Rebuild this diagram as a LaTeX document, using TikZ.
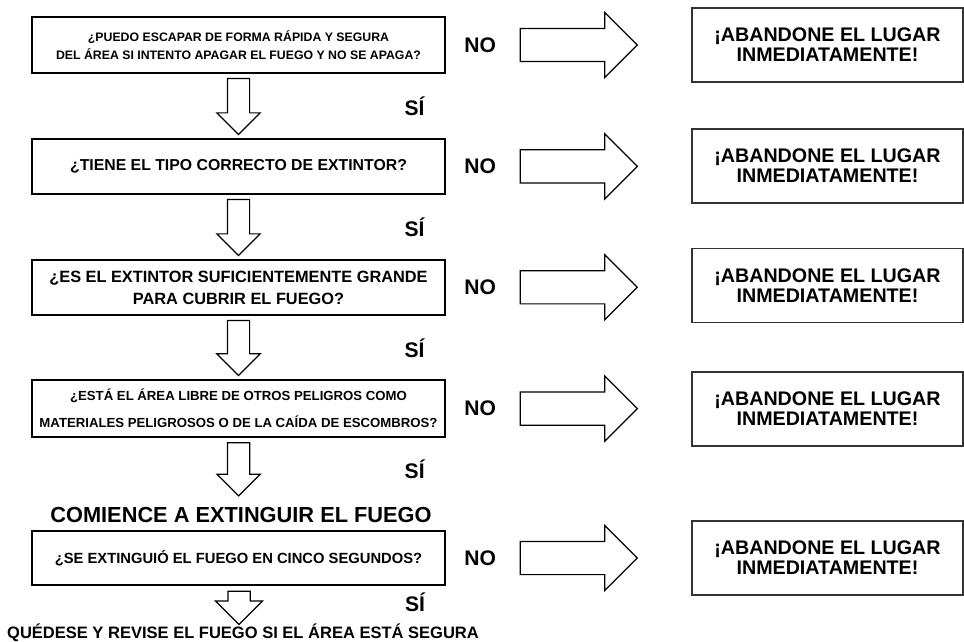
\documentclass[tikz,border=0pt]{standalone}
\usepackage{fontspec}
\setmainfont{Liberation Sans}
\usetikzlibrary{positioning}
\usetikzlibrary{calc}
\usetikzlibrary{shapes.arrows}
\tikzset{
	question/.style={
		rectangle,
		draw,
		line width=1.2pt,
		align=center,
		minimum width=8.26cm,
		minimum height=1.1cm,
		inner sep=0pt
	},
	leave/.style={
		rectangle,
		draw=black!80,
		line width=0.9pt,
		align=center,
		minimum width=5.42cm,
		minimum height=1.48cm,
		inner sep=0pt,
		font=\fontsize{11.2}{11.4}\selectfont\bfseries
	},
	rightarrow/.style={
		single arrow,
		draw,
		line width=0.7pt,
		anchor=tail,
		minimum height=2.34cm,
		inner sep=0.32cm,
		single arrow head extend=0.32cm
	},
	downarrow/.style={
		single arrow,
		draw,
		line width=0.7pt,
		shape border rotate=270,
		anchor=tail,
		minimum height=1.12cm,
		inner sep=0.21cm,
		single arrow head extend=0.21cm
	},
	answer/.style={
		inner sep=0pt,
		font=\fontsize{12}{12}\selectfont\bfseries
	}
}

\begin{document}
\begin{tikzpicture}[x=0.02cm, y=-0.02cm]
	\useasboundingbox (0,0) rectangle (964,642);
	% questions
	\node[question, minimum height=1.12cm, font=\fontsize{7}{10}\selectfont\bfseries] (Q1) at (238.5,45) {¿PUEDO ESCAPAR DE FORMA RÁPIDA Y SEGURA\\DEL ÁREA SI INTENTO APAGAR EL FUEGO Y NO SE APAGA?};
	\node[question, font=\fontsize{9}{11}\selectfont\bfseries] (Q2) at (238.5,166.5) {¿TIENE EL TIPO CORRECTO DE EXTINTOR?};
	\node[question, font=\fontsize{9.3}{12.5}\selectfont\bfseries] (Q3) at (238.5,287.5) {¿ES EL EXTINTOR SUFICIENTEMENTE GRANDE\\PARA CUBRIR EL FUEGO?};
	\node[question, minimum height=1.14cm, font=\fontsize{7.5}{15.5}\selectfont\bfseries] (Q4) at (238.5,408.5) {¿ESTÁ EL ÁREA LIBRE DE OTROS PELIGROS COMO\\MATERIALES PELIGROSOS O DE LA CAÍDA DE ESCOMBROS?};
	\node[answer, font=\fontsize{12.4}{12.4}\selectfont\bfseries] (Start) at (241,515) {COMIENCE A EXTINGUIR EL FUEGO};
	\node[question, minimum height=1.08cm, font=\fontsize{8.4}{10}\selectfont\bfseries] (Q5) at (238.5,558) {¿SE EXTINGUIÓ EL FUEGO EN CINCO SEGUNDOS?};
	\node[answer, font=\fontsize{9.4}{9.4}\selectfont\bfseries] (Stay) at (243,633) {QUÉDESE Y REVISE EL FUEGO SI EL ÁREA ESTÁ SEGURA};

	% NO branches
	\node[answer, right=0.36cm of Q1] (No1) {NO};
	\node[answer, right=0.36cm of Q2] (No2) {NO};
	\node[answer, right=0.36cm of Q3] (No3) {NO};
	\node[answer, right=0.36cm of Q4] (No4) {NO};
	\node[answer, right=0.36cm of Q5] (No5) {NO};

	\node[leave] (Exit1) at (827.5,45) {¡ABANDONE EL LUGAR\\INMEDIATAMENTE!};
	\node[leave] (Exit2) at (827.5,166) {¡ABANDONE EL LUGAR\\INMEDIATAMENTE!};
	\node[leave] (Exit3) at (827.5,285.5) {¡ABANDONE EL LUGAR\\INMEDIATAMENTE!};
	\node[leave] (Exit4) at (827.5,409) {¡ABANDONE EL LUGAR\\INMEDIATAMENTE!};
	\node[leave] (Exit5) at (827.5,558) {¡ABANDONE EL LUGAR\\INMEDIATAMENTE!};

	\node[rightarrow] (Right1) at ($(No1.east)!0.12!(Exit1.west)$) {};
	\node[rightarrow] (Right2) at ($(No2.east)!0.12!(Exit2.west)$) {};
	\node[rightarrow] (Right3) at ($(No3.east)!0.12!(Exit3.west)$) {};
	\node[rightarrow] (Right4) at ($(No4.east)!0.12!(Exit4.west)$) {};
	\node[rightarrow] (Right5) at ($(No5.east)!0.12!(Exit5.west)$) {};

	% SÍ branches
	\node[downarrow] (Down1) at ($(Q1.south)!0.06!(Q2.north)$) {};
	\node[downarrow] (Down2) at ($(Q2.south)!0.06!(Q3.north)$) {};
	\node[downarrow, minimum height=1.1cm] (Down3) at ($(Q3.south)!0.06!(Q4.north)$) {};
	\node[downarrow, minimum height=1.06cm] (Down4) at ($(Q4.south)!0.06!(Start.north)$) {};
	\node[downarrow, minimum height=0.64cm, single arrow head extend=0.25cm] (Down5) at ($(Q5.south)!0.12!(Stay.north)$) {};

	\node[answer] (Yes1) at ($(Down1.tail)!0.5!(Down1.tip)+(176,0)$) {SÍ};
	\node[answer] (Yes2) at ($(Down2.tail)!0.5!(Down2.tip)+(176,0)$) {SÍ};
	\node[answer] (Yes3) at ($(Down3.tail)!0.5!(Down3.tip)+(176,0)$) {SÍ};
	\node[answer] (Yes4) at ($(Down4.tail)!0.5!(Down4.tip)+(176,0)$) {SÍ};
	\node[answer] (Yes5) at ($(Down5.tail)!0.5!(Down5.tip)+(176,-6)$) {SÍ};
\end{tikzpicture}
\end{document}
